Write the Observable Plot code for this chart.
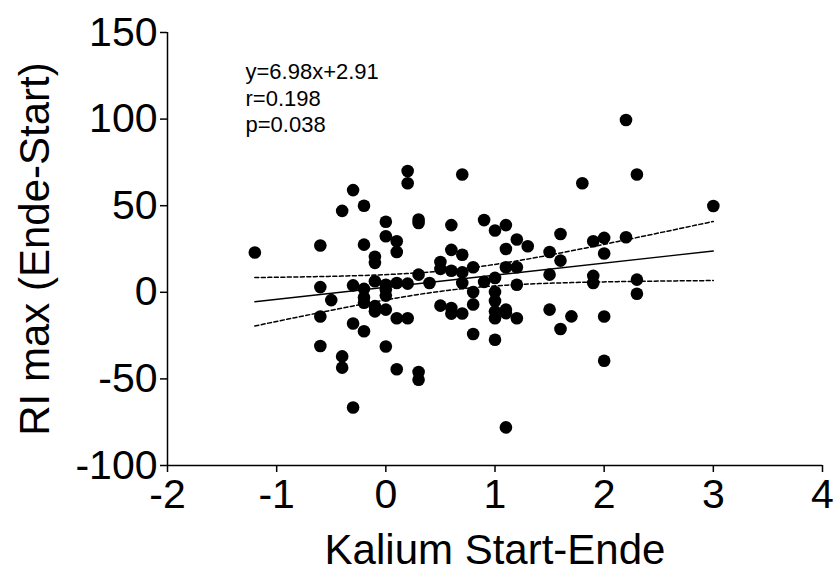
<!DOCTYPE html>
<html>
<head>
<meta charset="utf-8">
<script src="https://cdn.jsdelivr.net/npm/d3@7"></script>
<script src="https://cdn.jsdelivr.net/npm/@observablehq/plot@0.6"></script>
<style>
  html, body { margin: 0; padding: 0; background: #fff; }
  #chart svg { display: block; }
  #chart svg .tick line,
  #chart svg [aria-label="x-axis tick"] path,
  #chart svg [aria-label="y-axis tick"] path { stroke-width: 1.5px; }
</style>
</head>
<body>
<div id="chart"></div>
<script>
// Change in potassium (start − end) for each patient
const kalium = [
  -1.2,
  -0.6, -0.6, -0.6, -0.6,
  -0.5,
  -0.4, -0.4, -0.4,
  -0.3, -0.3, -0.3, -0.3,
  -0.2, -0.2, -0.2, -0.2, -0.2, -0.2,
  -0.1, -0.1, -0.1, -0.1, -0.1,
  0, 0, 0, 0, 0, 0, 0,
  0.1, 0.1, 0.1, 0.1, 0.1,
  0.2, 0.2, 0.2, 0.2,
  0.3, 0.3, 0.3, 0.3, 0.3,
  0.4,
  0.5, 0.5, 0.5,
  0.6, 0.6, 0.6, 0.6, 0.6,
  0.7, 0.7, 0.7, 0.7, 0.7,
  0.8, 0.8, 0.8, 0.8,
  0.9, 0.9,
  1.0, 1.0, 1.0, 1.0, 1.0, 1.0, 1.0,
  1.1, 1.1, 1.1, 1.1, 1.1, 1.1,
  1.2, 1.2, 1.2, 1.2,
  1.3,
  1.5, 1.5, 1.5,
  1.6, 1.6, 1.6,
  1.7,
  1.8,
  1.9, 1.9, 1.9,
  2.0, 2.0, 2.0, 2.0,
  2.2, 2.2,
  2.3, 2.3, 2.3,
  3.0
];

// Change in RI max (end − start), same order as kalium
const riMax = [
  23,
  27, 3, -14, -31,
  -4.5,
  47, -37, -43.5,
  59, 4, -18, -66.5,
  50, 27.5, 2, -3, -6, -22.5,
  20.5, 17, 6.4, -8, -11,
  40.7, 32.4, 4.4, 1.6, -1.9, -10, -31.3,
  29.5, 23.3, 5.4, -15, -44.4,
  70, 63, 5, -15,
  42, 40, 10.2, -46, -50.5,
  5.4,
  17.5, 13.5, -7.7,
  38.8, 24.5, 12.4, -9.1, -12.3,
  68, 21.7, 11.5, 5.4, -12.2,
  14.5, 0.2, -7, -24.1,
  41.7, 6,
  35.7, 8.3, 0.2, -5, -11, -15, -27.4,
  38.8, 25, 14.5, -10, -12, -78,
  30.5, 14.5, 4.4, -15,
  26.6,
  23.3, 10.2, -10,
  33.7, 18.3, -21.2,
  -13.9,
  63,
  29.5, 9.5, 5.4,
  31.4, 22.4, -14, -39.5,
  99.5, 31.8,
  68, 7.3, -0.8,
  49.8
];

// Reported linear fit
const slope = 6.98;
const intercept = 2.91;
const statsLines = ["y=6.98x+2.91", "r=0.198", "p=0.038"];

const xTicks = [-2, -1, 0, 1, 2, 3, 4];
const yTicks = [-100, -50, 0, 50, 100, 150];
const xTitle = "Kalium Start-Ende";
const yTitle = "RI max (Ende-Start)";

const points = kalium.map((k, i) => ({k, ri: riMax[i]}));

// 95% confidence band of the regression line
const n = kalium.length;
const xMean = d3.mean(kalium);
const sxx = d3.sum(kalium, k => (k - xMean) ** 2);
const sse = d3.sum(points, p => (p.ri - (intercept + slope * p.k)) ** 2);
const s = Math.sqrt(sse / (n - 2));
const df = n - 2;
const z = 1.959964;
const tCrit = z + (z ** 3 + z) / (4 * df) + (5 * z ** 5 + 16 * z ** 3 + 3 * z) / (96 * df * df);
const [xMin, xMax] = d3.extent(kalium);
const grid = d3.range(0, 101).map(i => xMin + (xMax - xMin) * i / 100);
const band = grid.map(k => {
  const fit = intercept + slope * k;
  const hw = tCrit * s * Math.sqrt(1 / n + (k - xMean) ** 2 / sxx);
  return {k, fit, lo: fit - hw, hi: fit + hw};
});

const font = "'Liberation Sans', Arial, Helvetica, sans-serif";

const chart = Plot.plot({
  width: 834,
  height: 576,
  marginLeft: 167,
  marginRight: 12,
  marginTop: 32,
  marginBottom: 111,
  style: {fontFamily: font, fontSize: "41px", background: "#fff", color: "#000", overflow: "visible"},
  x: {domain: [-2, 4], ticks: xTicks, tickFormat: d => String(d), tickSize: 7, tickPadding: 6, label: null},
  y: {domain: [-100, 150], ticks: yTicks, tickFormat: d => String(d), tickSize: 7, tickPadding: 3, label: null},
  marks: [
    Plot.ruleX([-2], {stroke: "#000", strokeWidth: 1.5}),
    Plot.ruleY([-100], {stroke: "#000", strokeWidth: 1.5}),
    Plot.line(band, {x: "k", y: "hi", stroke: "#000", strokeWidth: 1.5, strokeDasharray: "4,2.5"}),
    Plot.line(band, {x: "k", y: "lo", stroke: "#000", strokeWidth: 1.5, strokeDasharray: "4,2.5"}),
    Plot.line([band[0], band[band.length - 1]], {x: "k", y: "fit", stroke: "#000", strokeWidth: 1.3}),
    Plot.dot(points, {x: "k", y: "ri", r: 6.3, fill: "#000", stroke: "none"}),
    Plot.text([statsLines.join("\n")], {
      frameAnchor: "top-left", textAnchor: "start", lineAnchor: "top",
      dx: 78, dy: 28, fontSize: 22, lineHeight: 1.2, fill: "#000"
    }),
    Plot.text([xTitle], {frameAnchor: "bottom", textAnchor: "middle", lineAnchor: "middle", dy: 85, fontSize: 42, fill: "#000"}),
    Plot.text([yTitle], {frameAnchor: "left", textAnchor: "middle", rotate: -90, lineAnchor: "middle", dx: -132, fontSize: 42, fill: "#000"})
  ]
});

document.getElementById("chart").appendChild(chart);
</script>
</body>
</html>
